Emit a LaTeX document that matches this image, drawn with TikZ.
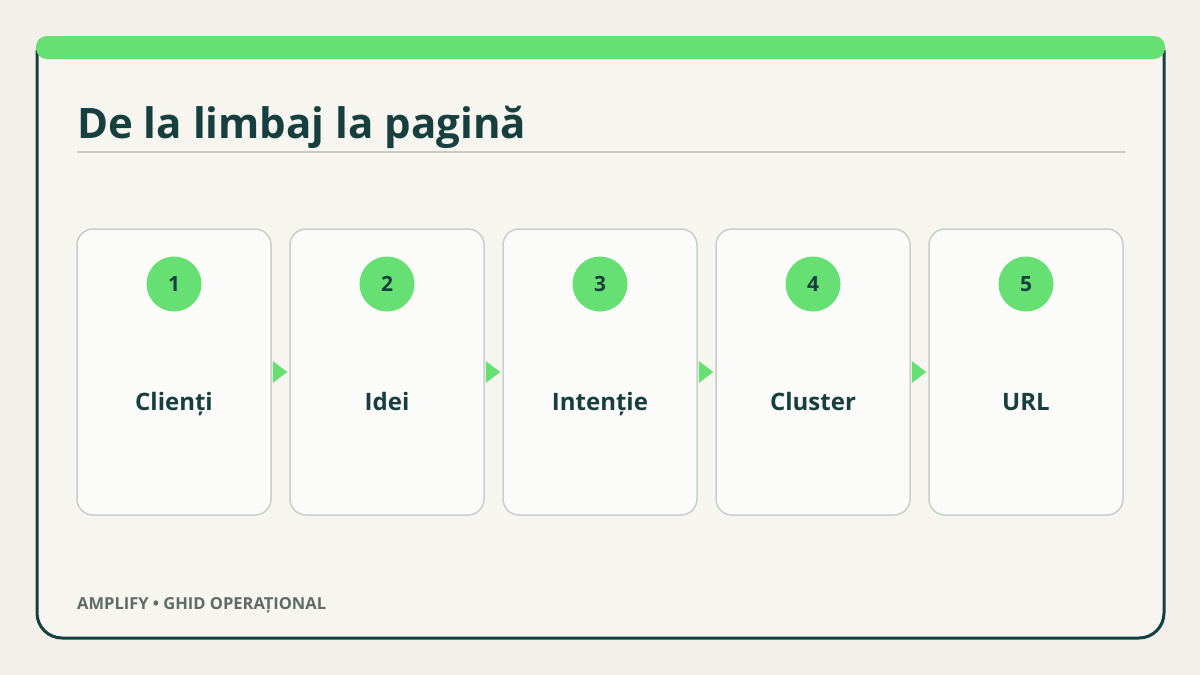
\documentclass[tikz,border=0pt]{standalone}
\usepackage{fontspec}
\setmainfont{Open Sans}
\usetikzlibrary{calc}
\definecolor{bgc}{HTML}{F2F0E9}
\definecolor{panel}{HTML}{F6F5EF}
\definecolor{dark}{HTML}{173F3F}
\definecolor{accent}{HTML}{66E072}
\definecolor{cardfill}{HTML}{FBFBF9}
\definecolor{cardline}{HTML}{C8D0CA}
\definecolor{rulec}{HTML}{C5CCC6}
\definecolor{foot}{HTML}{5F6B66}
\tikzset{
  stepcard/.style={draw=cardline, line width=1.5pt, fill=cardfill, rounded corners=16pt,
    minimum width=194pt, minimum height=286pt, inner sep=0pt},
  badge/.style={circle, fill=accent, minimum size=55pt, inner sep=0pt,
    font=\fontsize{21}{21}\selectfont\bfseries, text=dark},
  cardlabel/.style={font=\fontsize{24}{24}\selectfont\bfseries, text=dark},
  flowtip/.style={fill=accent},
}
\begin{document}
\begin{tikzpicture}[x=1pt,y=-1pt]
\useasboundingbox (0,0) rectangle (1200,675);
\fill[bgc] (0,0) rectangle (1200,675);
% panel
\fill[panel, rounded corners=25pt] (37,50) -- (37,638) -- (1164,638) -- (1164,50);
\draw[dark, line width=3pt, rounded corners=25pt] (37,50) -- (37,638) -- (1164,638) -- (1164,50);
\fill[accent, rounded corners=11pt] (36,36) rectangle (1165,59);
% title
\node[anchor=base west, inner sep=0pt, text=dark, font=\fontsize{42}{42}\selectfont\bfseries] (title) at (77,138) {De la limbaj la pagină};
\draw[rulec, line width=2pt] (77,152) -- (1125,152);
% cards
\foreach \i/\x/\t in {1/174/Clienți, 2/387/Idei, 3/600/Intenție, 4/813/Cluster, 5/1026/URL}{
  \node[stepcard] (c\i) at (\x,372) {};
  \node[badge] (b\i) at (\x,284) {\i};
  \node[cardlabel, anchor=base] (l\i) at (\x,410) {\t};
}
\foreach \a/\b in {1/2,2/3,3/4,4/5}{
  \fill[flowtip] ($(c\a.east)+(1,-11)$) -- ($(c\a.east)+(1,11)$) -- ($(c\b.west)+(-2,0)$) -- cycle;
}
\node[anchor=base west, inner sep=0pt, text=foot, font=\fontsize{16.5}{16.5}\selectfont\bfseries] (footer) at (77,609) {AMPLIFY • GHID OPERAȚIONAL};
\end{tikzpicture}
\end{document}
